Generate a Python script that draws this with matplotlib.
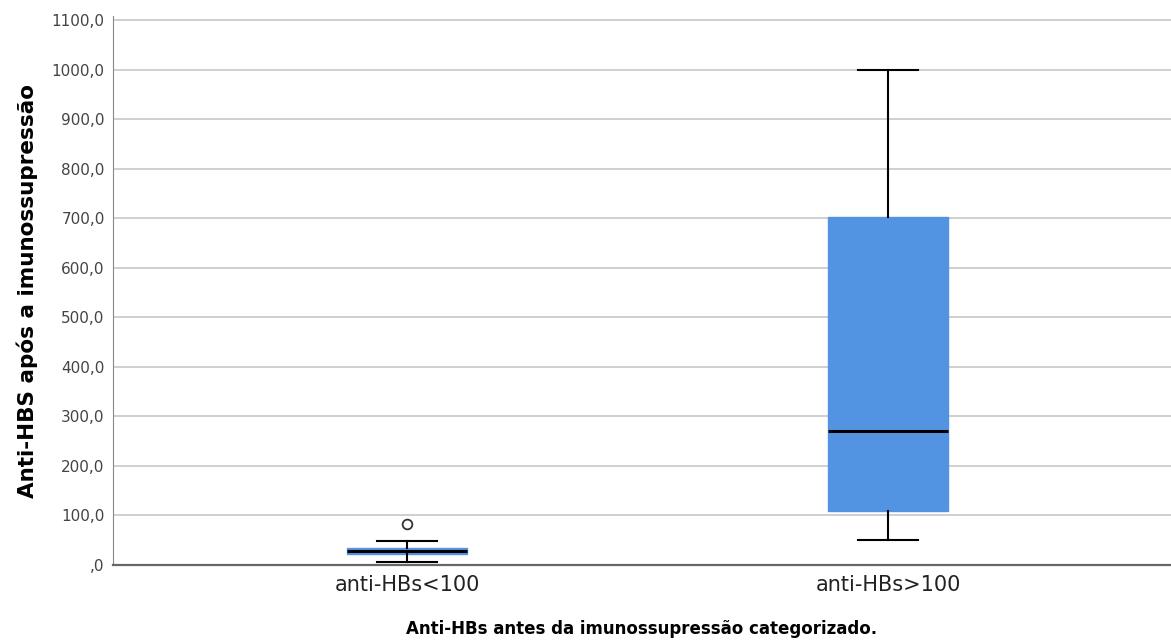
import matplotlib
matplotlib.use('Agg')
import matplotlib.pyplot as plt
from matplotlib.ticker import FuncFormatter

# group labels and box statistics
categories = ['anti-HBs<100', 'anti-HBs>100']
whislo = [5, 50]
q1 = [22, 109]
med = [28, 270]
q3 = [34, 702]
whishi = [49, 1000]
outliers = [[83], []]

box_color = '#5294e2'
plt.rcParams['font.family'] = ['DejaVu Sans']

stats = []
for i, name in enumerate(categories):
    stats.append({'label': name, 'whislo': whislo[i], 'q1': q1[i], 'med': med[i],
                  'q3': q3[i], 'whishi': whishi[i], 'fliers': outliers[i]})

fig = plt.figure(figsize=(11.71, 6.42), dpi=100)
ax = fig.add_axes([0.0965, 0.12, 0.9035, 0.855])

ax.bxp(stats, positions=[0, 1], widths=0.25, patch_artist=True,
       boxprops=dict(facecolor=box_color, edgecolor=box_color, linewidth=1),
       medianprops=dict(color='black', linewidth=2.2),
       whiskerprops=dict(color='black', linewidth=1.5),
       capprops=dict(color='black', linewidth=1.5),
       capwidths=0.125,
       flierprops=dict(marker='o', markerfacecolor='white', markeredgecolor='#333333',
                       markersize=7, markeredgewidth=1.3),
       zorder=3)

ax.set_xlim(-0.611, 1.588)
ax.set_ylim(0, 1108)
ax.set_yticks(range(0, 1101, 100))
ax.yaxis.set_major_formatter(FuncFormatter(lambda v, p: ',0' if v == 0 else f'{v:.1f}'.replace('.', ',')))
ax.grid(axis='y', color='#cccccc', linewidth=1.3, zorder=0)
ax.set_axisbelow(True)

for s in ['top', 'right']:
    ax.spines[s].set_visible(False)
ax.spines['left'].set_color('#888888')
ax.spines['bottom'].set_color('#666666')
ax.spines['bottom'].set_linewidth(1.6)
ax.tick_params(axis='y', length=0, labelsize=11, labelcolor='#444444', pad=6)
ax.tick_params(axis='x', length=0, labelsize=15, labelcolor='#222222', pad=7)

ax.set_ylabel('Anti-HBS após a imunossupressão', fontsize=15.5, fontweight='bold', labelpad=10)
ax.set_xlabel('Anti-HBs antes da imunossupressão categorizado.', fontsize=12, fontweight='bold', labelpad=18)

fig.savefig('out.png', dpi=100)
